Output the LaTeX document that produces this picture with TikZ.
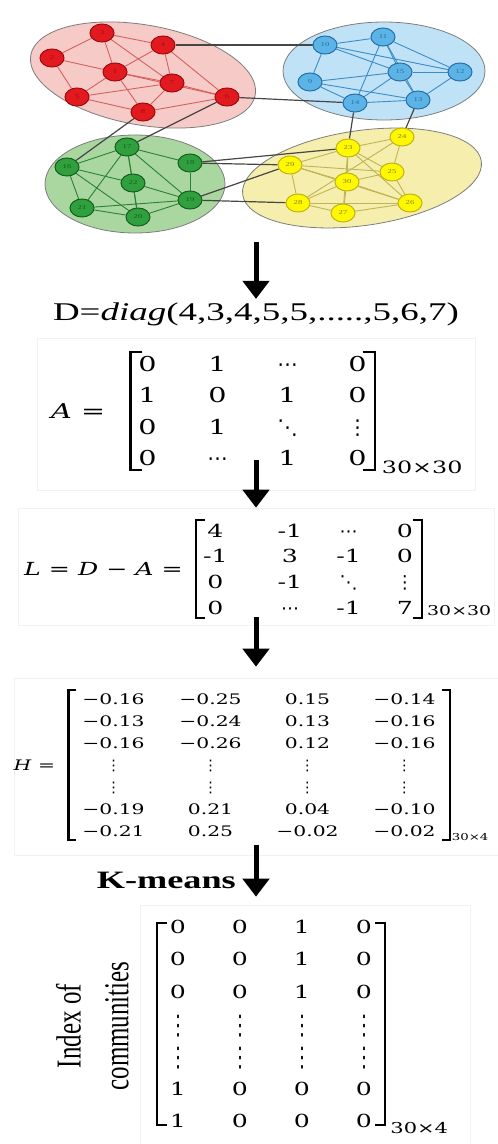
\documentclass[tikz,border=0pt]{standalone}
\usepackage{fontspec}
\setmainfont{Liberation Serif}[FakeStretch=1.45]
\newfontfamily\matfont{DejaVu Serif}[FakeStretch=1.4]
\newfontfamily\plainfont{Liberation Serif}
\newfontfamily\dotfont{DejaVu Sans}
\usetikzlibrary{positioning,arrows.meta,shapes.geometric,calc,matrix,backgrounds}

\definecolor{redv}{RGB}{226,26,32}
\definecolor{redd}{RGB}{160,10,15}
\definecolor{rede}{RGB}{214,96,96}
\definecolor{redr}{RGB}{246,202,198}
\definecolor{bluev}{RGB}{92,180,230}
\definecolor{blued}{RGB}{40,110,170}
\definecolor{bluee}{RGB}{60,140,200}
\definecolor{bluer}{RGB}{192,226,246}
\definecolor{greenv}{RGB}{48,160,62}
\definecolor{greend}{RGB}{20,95,30}
\definecolor{greene}{RGB}{40,130,52}
\definecolor{greenr}{RGB}{170,214,160}
\definecolor{yellowv}{RGB}{255,248,0}
\definecolor{yellowd}{RGB}{190,180,20}
\definecolor{yellowe}{RGB}{190,180,90}
\definecolor{yellowr}{RGB}{246,238,172}
\definecolor{regline}{RGB}{125,125,125}
\definecolor{linkc}{RGB}{70,70,70}

% dots for the matrices
\newcommand{\hdt}{{\dotfont ⋯}}
\newcommand{\vdt}{{\dotfont ⋮}}
\newcommand{\ddt}{{\dotfont ⋱}}
\newcommand{\tallvdt}{\raisebox{-0.2em}{\scalebox{1}[1.5]{\dotfont ⋮}}}

% brackets round a matrix: #1 name, #2 length of the serifs
\newcommand{\mbrack}[2]{%
  \draw[brk] ([xshift=#2]#1.north west) -- (#1.north west) -- (#1.south west) -- ([xshift=#2]#1.south west);
  \draw[brk] ([xshift=-#2]#1.north east) -- (#1.north east) -- (#1.south east) -- ([xshift=-#2]#1.south east);}

\begin{document}
\begin{tikzpicture}[x=1pt, y=-1pt,
    vertex/.style={ellipse, draw, line width=1pt, minimum width=24pt, minimum height=18pt,
                   inner sep=0pt, font=\fontsize{6}{6}\selectfont},
    vred/.style={vertex, fill=redv, draw=redd, text=redd},
    vblue/.style={vertex, fill=bluev, draw=blued, text=blued},
    vgreen/.style={vertex, fill=greenv, draw=greend, text=greend},
    vyellow/.style={vertex, fill=yellowv, draw=yellowd, text=yellowd!70!black},
    region/.style={ellipse, draw=regline, line width=0.8pt},
    inter/.style={draw=linkc, line width=1.2pt},
    panel/.style={draw=black!5, line width=0.6pt, inner sep=0pt},
    mat/.style={matrix of nodes, nodes={anchor=center, inner sep=0pt, text depth=0pt}},
    brk/.style={line width=2.4pt},
    flow/.style={-{Triangle[width=26pt,length=18pt]}, line width=5pt}
  ]
  \useasboundingbox (0,0) rectangle (498,1144);

  %% ---- Graph with four communities ----
  \foreach \n/\x/\y in {3/102/33, 4/163/45, 2/52/58, 1/115/72, 7/172/83, 5/77/97, 6/227/97, 8/143/112}
    \node[vred] (v\n) at (\x,\y) {\n};
  \foreach \n/\x/\y in {11/383/37, 10/325/45, 15/400/72, 12/460/72, 9/310/82, 14/355/103, 13/418/100}
    \node[vblue] (v\n) at (\x,\y) {\n};
  \foreach \n/\x/\y in {17/127/147, 16/67/167, 18/190/163, 22/133/183, 19/190/200, 21/82/208, 20/138/217}
    \node[vgreen] (v\n) at (\x,\y) {\n};
  \foreach \n/\x/\y in {24/402/137, 23/348/148, 29/290/165, 25/392/172, 30/347/182, 28/298/203, 26/410/203, 27/343/213}
    \node[vyellow] (v\n) at (\x,\y) {\n};

  \begin{scope}[on background layer]
    \node[region, fill=redr, minimum width=228pt, minimum height=100pt, rotate=-10] (redc) at (143,75) {};
    \node[region, fill=bluer, minimum width=202pt, minimum height=98pt] (bluec) at (384,71) {};
    \node[region, fill=greenr, minimum width=180pt, minimum height=98pt] (greenc) at (135,184) {};
    \node[region, fill=yellowr, minimum width=241pt, minimum height=95pt, rotate=8] (yellowc) at (362,178) {};

    \foreach \a/\b in {3/2, 3/4, 3/1, 3/7, 2/1, 2/5, 1/5, 1/8, 1/7, 4/1, 4/7, 4/6, 5/8, 5/7, 8/7, 8/6, 7/6, 1/6}
      \draw[draw=rede, line width=0.9pt] (v\a) -- (v\b);
    \foreach \a/\b in {10/11, 10/9, 10/15, 10/12, 11/15, 11/14, 11/13, 11/12, 15/12, 15/14, 15/13, 9/15, 9/14, 9/13, 14/13, 12/13}
      \draw[draw=bluee, line width=0.9pt] (v\a) -- (v\b);
    \foreach \a/\b in {16/17, 16/21, 16/22, 16/20, 17/18, 17/22, 17/21, 17/19, 17/20, 18/19, 22/20, 21/20, 21/19, 20/19, 22/19}
      \draw[draw=greene, line width=0.9pt] (v\a) -- (v\b);
    \foreach \a/\b in {23/24, 23/29, 23/30, 23/25, 23/26, 23/27, 24/25, 24/28, 29/25, 29/28, 29/30, 29/26, 30/25, 30/27, 30/28, 30/26, 28/27, 28/26, 27/26, 25/26}
      \draw[draw=yellowe, line width=0.9pt] (v\a) -- (v\b);

    % links between communities
    \foreach \a/\b in {4/10, 6/14, 8/16, 6/17, 14/23, 13/24, 18/23, 18/29, 19/29, 19/28}
      \draw[inter] (v\a) -- (v\b);
  \end{scope}

  %% ---- Degree matrix ----
  \coordinate (gbottom) at (256,242);
  \node[font=\fontsize{25.5}{30}\selectfont] (diag) at (256,314) {D=\textit{diag}(4,3,4,5,5,.....,5,6,7)};

  %% ---- Adjacency matrix ----
  \node[panel, minimum width=438pt, minimum height=152pt] (adjbox) at (256,414) {};
  \matrix (amat) [mat, nodes={minimum width=24pt, minimum height=22pt, text height=15pt,
                  font=\matfont\fontsize{20.5}{24}\selectfont},
                  column sep=46pt, row sep=9.3pt, inner xsep=5pt, inner ysep=1pt] at (252.5,411) {
    0 & 1 & \hdt & 0 \\
    1 & 0 & 1 & 0 \\
    0 & 1 & \ddt & \vdt \\
    0 & \hdt & 1 & 0 \\
  };
  \mbrack{amat}{12pt}
  \node[font=\matfont\fontsize{20.5}{24}\selectfont, inner sep=0pt, left=25pt of amat] (alab) {\textit{A} =};
  \node[font=\matfont\fontsize{17}{20}\selectfont, inner sep=0pt, right=7pt of amat.south east, yshift=3pt] (asub) {30×30};

  %% ---- Laplacian ----
  \node[panel, minimum width=476pt, minimum height=117pt] (lapbox) at (256,566.5) {};
  \matrix (lmat) [mat, nodes={minimum width=20pt, minimum height=18pt, text height=13.1pt,
                  font=\matfont\fontsize{18}{22}\selectfont},
                  column sep=34pt, row sep=7.7pt, inner xsep=7pt, inner ysep=1.5pt] at (309,569) {
    4 &[16pt] -1 & \hdt & 0 \\
    -1 & 3 & -1 & 0 \\
    0 & -1 & \ddt & \vdt \\
    0 & \hdt & -1 & 7 \\
  };
  \mbrack{lmat}{9pt}
  \node[font=\matfont\fontsize{18}{22}\selectfont, inner sep=0pt, left=13pt of lmat] (llab)
      {\textit{L} = \textit{D} − \textit{A} =};
  \node[font=\matfont\fontsize{13.5}{16}\selectfont, inner sep=0pt, right=5pt of lmat.south east, yshift=8pt] (lsub) {30×30};

  %% ---- Eigenvectors ----
  \node[panel, minimum width=484pt, minimum height=177pt] (eigbox) at (256,766.5) {};
  \matrix (hmat) [mat, nodes={minimum width=68pt, minimum height=16pt, text height=10.6pt,
                  font=\matfont\fontsize{14.5}{17}\selectfont},
                  column sep=29pt, row sep=6pt, inner xsep=11pt, inner ysep=1pt] at (259,765) {
    −0.16 & −0.25 & 0.15 & −0.14 \\
    −0.13 & −0.24 & 0.13 & −0.16 \\
    −0.16 & −0.26 & 0.12 & −0.16 \\
    \vdt & \vdt & \vdt & \vdt \\
    \vdt & \vdt & \vdt & \vdt \\
    −0.19 & 0.21 & 0.04 & −0.10 \\
    −0.21 & 0.25 & −0.02 & −0.02 \\
  };
  \mbrack{hmat}{8pt}
  \node[font=\matfont\fontsize{14.5}{17}\selectfont, inner sep=0pt, left=13pt of hmat] (hlab) {\textit{H} =};
  \node[font=\matfont\fontsize{9.5}{11}\selectfont, inner sep=0pt, right=2pt of hmat.south east, yshift=3pt] (hsub) {30×4};

  %% ---- Community index ----
  \node[font=\bfseries\fontsize{25}{30}\selectfont, inner sep=0pt, anchor=east] (kmeans) at (236,880) {K-means};
  \node[panel, minimum width=330pt, minimum height=239pt] (idxbox) at (305,1024.5) {};
  \matrix (imat) [mat, nodes={minimum width=20pt, minimum height=20pt, text height=13.1pt,
                  font=\matfont\fontsize{18}{22}\selectfont},
                  column sep=42pt, row sep=12.3pt, inner xsep=11pt, inner ysep=-6pt] at (271,1024) {
    0 & 0 & 1 & 0 \\
    0 & 0 & 1 & 0 \\
    0 & 0 & 1 & 0 \\
    \tallvdt & \tallvdt & \tallvdt & \tallvdt \\
    \tallvdt & \tallvdt & \tallvdt & \tallvdt \\
    1 & 0 & 0 & 0 \\
    1 & 0 & 0 & 0 \\
  };
  \mbrack{imat}{10pt}
  \node[font=\matfont\fontsize{15}{18}\selectfont, inner sep=0pt, right=5pt of imat.south east, yshift=-3pt] (isub) {30×4};
  \node[font=\plainfont\fontsize{25}{34}\selectfont, rotate=90, inner sep=0pt] (idxlab) at (95,1026)
      {\scalebox{1}[1.4]{\begin{tabular}{@{}c@{}}Index of\\communities\end{tabular}}};

  %% ---- Connections ----
  \draw[flow] (gbottom) -- (diag.north);
  \draw[flow] ($(adjbox.south)+(0,-30)$) -- (adjbox.south |- lapbox.north);
  \draw[flow, shorten >=11pt] ($(lapbox.south)+(0,-8)$) -- (lapbox.south |- eigbox.north);
  \draw[flow, shorten >=8pt] ($(eigbox.south)+(0,-10)$) -- (eigbox.south |- idxbox.north);

\end{tikzpicture}
\end{document}
